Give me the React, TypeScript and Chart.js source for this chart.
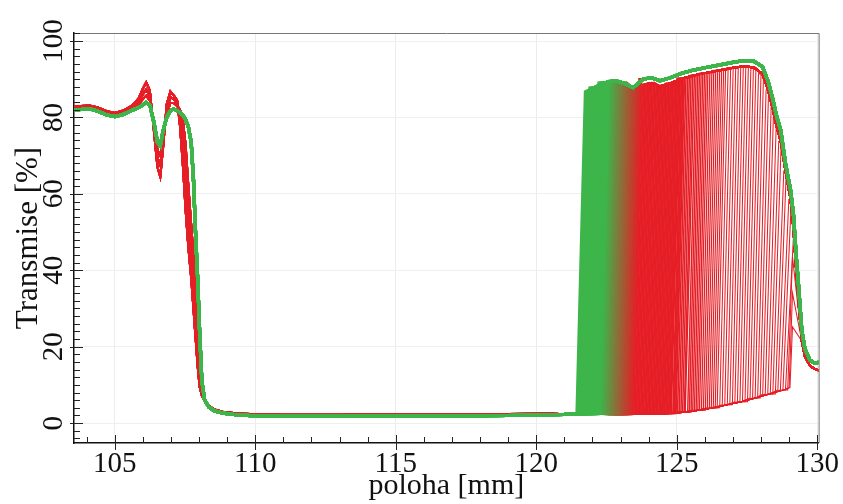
import React, { useEffect, useRef } from "react";
import { Chart, registerables } from "chart.js";

Chart.register(...registerables);

// ---------- data ----------
// Left part (common to all scans): position [mm]
const leftX = [103.55, 103.8, 104.1, 104.4, 104.7, 105.0, 105.3, 105.6, 105.85, 106.0, 106.12, 106.25, 106.4, 106.52, 106.62, 106.72, 106.85, 106.98, 107.1, 107.22, 107.32, 107.42, 107.52, 107.62, 107.72, 107.8, 107.88, 107.95, 108.02, 108.1, 108.2, 108.35, 108.55, 108.85, 109.3, 110.0, 111.0, 113.0, 115.0, 117.0, 119.0, 120.5];
// transmission of the first (green) scans
const leftGreen = [82.0, 82.1, 82.3, 81.6, 80.7, 80.2, 80.8, 81.8, 82.6, 83.3, 83.9, 83.2, 78.5, 73.5, 72.6, 76.5, 80.0, 81.8, 82.2, 81.8, 81.3, 80.6, 79.5, 77.5, 73.5, 64.0, 49.0, 38.0, 24.0, 11.0, 6.0, 4.2, 3.2, 2.6, 2.2, 1.9, 1.8, 1.8, 1.9, 1.9, 2.0, 2.2];
// transmission of the later (red) scans, three representative shapes
const leftRedA = [82.8, 83.0, 83.1, 82.6, 81.7, 81.2, 81.8, 83.0, 85.0, 87.5, 89.2, 87.0, 76.0, 67.0, 64.5, 72.0, 83.5, 86.8, 85.8, 84.5, 78.0, 68.0, 56.0, 46.0, 38.0, 30.0, 22.0, 15.0, 9.5, 7.2, 5.8, 4.5, 3.6, 3.0, 2.6, 2.3, 2.2, 2.2, 2.3, 2.3, 2.4, 2.5];
const leftRedB = [82.5, 82.7, 82.8, 82.2, 81.3, 80.8, 81.4, 82.6, 84.2, 86.0, 87.3, 85.5, 77.0, 69.5, 67.5, 73.5, 82.0, 85.3, 84.8, 83.8, 81.0, 75.0, 64.0, 53.0, 44.0, 36.0, 27.0, 19.0, 12.0, 8.0, 6.0, 4.5, 3.5, 2.9, 2.5, 2.2, 2.1, 2.1, 2.2, 2.2, 2.3, 2.4];
const leftRedC = [82.3, 82.4, 82.6, 81.9, 81.0, 80.5, 81.1, 82.2, 83.5, 84.8, 85.7, 84.4, 77.8, 71.5, 70.0, 74.5, 81.0, 83.8, 83.8, 83.0, 82.0, 79.5, 73.0, 62.0, 52.0, 44.0, 34.0, 25.0, 16.0, 9.5, 6.3, 4.5, 3.4, 2.8, 2.4, 2.1, 2.0, 2.0, 2.1, 2.1, 2.2, 2.3];

// Right part: low baseline before each scan's rising edge
const baseX = [121.0, 121.4, 122.0, 123.0, 124.0, 124.8, 125.3, 125.8, 126.3, 126.8, 127.3, 127.8, 128.3, 128.8, 129.1];
const baseY = [2.3, 2.5, 2.5, 2.4, 2.5, 2.6, 2.9, 3.4, 4.0, 4.8, 5.6, 6.6, 7.6, 8.7, 9.3];

// Right part: high plateau after the rising edge
const topX = [121.7, 122.05, 122.4, 122.8, 123.1, 123.45, 123.8, 124.1, 124.4, 124.75, 125.2, 125.6, 126.0, 126.5, 127.0, 127.4, 127.75, 128.05, 128.25, 128.4, 128.55, 128.7, 128.87, 129.05, 129.15, 129.25, 129.33, 129.45, 129.56, 129.74, 129.9, 130.05];
const topGreenY = [86.7, 87.7, 89.0, 89.6, 89.0, 87.8, 90.0, 90.4, 89.6, 90.3, 91.6, 92.4, 93.0, 93.7, 94.4, 94.9, 94.7, 93.3, 89.5, 85.4, 80.5, 76.7, 68.0, 61.0, 55.0, 44.0, 36.6, 24.5, 19.5, 16.5, 15.7, 15.9];
const topRedY = [85.4, 86.4, 87.7, 88.2, 87.7, 86.5, 88.6, 89.0, 88.2, 88.9, 90.2, 91.0, 91.6, 92.3, 93.0, 93.4, 93.1, 91.4, 87.2, 82.7, 77.7, 73.7, 66.0, 58.5, 51.0, 40.0, 32.0, 21.5, 17.5, 15.0, 14.2, 13.8];

// rising-edge position [mm] of each scan, in time order (green first, red last)
const edgePositions = [
  121.45, 121.49, 121.53, 121.57, 121.61, 121.65, 121.69, 121.73, 121.77, 121.81, 121.85, 121.89, 121.93, 121.97, 122.01, 122.05, 122.09,
  122.13, 122.18, 122.22, 122.27, 122.31, 122.36, 122.40, 122.45, 122.49, 122.54, 122.58, 122.63, 122.67, 122.72, 122.76, 122.81, 122.85, 122.90, 122.94, 122.99, 123.03, 123.08, 123.12, 123.17,
  123.22, 123.27, 123.32, 123.37, 123.42, 123.47, 123.52, 123.57, 123.62, 123.67, 123.72, 123.77, 123.82, 123.87, 123.92, 123.97, 124.02, 124.07, 124.12, 124.17, 124.22, 124.27, 124.32, 124.37, 124.42, 124.47, 124.52, 124.57, 124.62, 124.67, 124.72, 124.77, 124.82, 124.87, 124.92, 124.97,
  125.03, 125.09, 125.15, 125.21, 125.27, 125.33, 125.39, 125.45, 125.51, 125.57, 125.63, 125.69, 125.75, 125.81, 125.88, 125.95, 126.02, 126.09, 126.16, 126.23, 126.30, 126.37, 126.44,
  126.53, 126.62, 126.71, 126.80, 126.89, 126.98, 127.07, 127.16, 127.25, 127.34, 127.43, 127.52, 127.61, 127.70, 127.79, 127.88, 127.97, 128.06, 128.15, 128.24, 128.33, 128.42, 128.51, 128.60, 128.69, 128.78, 128.87,
];
// last scans: edge close to the right drop, with a small peak only
const lateEdges = [128.95, 129.0, 129.03];
const latePeakX = [129.12, 129.12, 129.12];
const latePeaks = [43.5, 34.0, 25.2];

const yTickLabels = ["0", "20", "40", "60", "80", "100"];
const xTickLabels = ["105", "110", "115", "120", "125", "130"];

// ---------- styling ----------
const GREEN = [61, 181, 74];
const RED = [230, 30, 38];
const GREEN_END = 20; // index where colour starts to change
const RED_START = 46; // index where colour is fully red
const DENSE_END = 77; // scans after this index are drawn thinner
const MEDIUM_END = 100;
const RISE_WIDTH = 0.3; // mm
const FONT = "'Liberation Serif', 'Times New Roman', serif";

function colorFor(i: number): string {
  const t = Math.min(1, Math.max(0, (i - GREEN_END) / (RED_START - GREEN_END)));
  const c = GREEN.map((g, k) => Math.round(g + (RED[k] - g) * t));
  return `rgb(${c[0]},${c[1]},${c[2]})`;
}

function widthFor(i: number): number {
  if (i < GREEN_END) return 3.2;
  if (i < RED_START) return 2.4;
  if (i < DENSE_END) return 2.0;
  if (i < MEDIUM_END) return 1.6 - ((i - DENSE_END) / (MEDIUM_END - DENSE_END)) * 0.5;
  return 1.05;
}

function nearest(xs: number[], ys: number[], x: number): number {
  let best = 0;
  for (let k = 1; k < xs.length; k++) if (Math.abs(xs[k] - x) < Math.abs(xs[best] - x)) best = k;
  return ys[best];
}

function leftFor(i: number): number[] {
  if (i < RED_START) return leftGreen;
  const r = i % 3;
  return r === 0 ? leftRedA : r === 1 ? leftRedB : leftRedC;
}

function buildCurve(left: number[], top: number[], edge: number) {
  const pts: { x: number; y: number }[] = leftX.map((x, k) => ({ x, y: left[k] }));
  baseX.forEach((x, k) => {
    if (x < edge - 0.01) pts.push({ x, y: baseY[k] });
  });
  pts.push({ x: edge, y: nearest(baseX, baseY, edge) });
  const t0 = edge + RISE_WIDTH;
  pts.push({ x: t0, y: nearest(topX, top, t0) });
  topX.forEach((x, k) => {
    if (x > t0 + 0.03) pts.push({ x, y: top[k] });
  });
  return pts;
}

function buildLate(left: number[], edge: number, px: number, peak: number) {
  const pts: { x: number; y: number }[] = leftX.map((x, k) => ({ x, y: left[k] }));
  baseX.forEach((x, k) => {
    if (x < edge - 0.01) pts.push({ x, y: baseY[k] });
  });
  pts.push({ x: edge, y: nearest(baseX, baseY, edge) });
  pts.push({ x: px, y: peak });
  topX.forEach((x, k) => {
    if (x >= 129.4) pts.push({ x, y: topRedY[k] });
  });
  return pts;
}

function isMultiple(v: number, m: number) {
  return Math.abs(v - Math.round(v / m) * m) < 1e-6;
}

const frameAndTicks = {
  id: "frameAndTicks",
  afterDraw(chart: any) {
    const { ctx, chartArea } = chart;
    const { left, right, top, bottom } = chartArea;
    const xs = chart.scales.x;
    const ys = chart.scales.y;
    ctx.save();
    ctx.strokeStyle = "#777";
    ctx.lineWidth = 1;
    ctx.beginPath();
    ctx.moveTo(left, top + 0.5);
    ctx.lineTo(right + 0.5, top + 0.5);
    ctx.lineTo(right + 0.5, bottom);
    ctx.stroke();
    ctx.strokeStyle = "#222";
    ctx.lineWidth = 1;
    ctx.beginPath();
    xs.ticks.forEach((t: any) => {
      const p = Math.round(xs.getPixelForValue(t.value)) + 0.5;
      if (isMultiple(t.value, 5)) {
        ctx.moveTo(p, bottom - 8);
        ctx.lineTo(p, bottom + 7);
      } else {
        ctx.moveTo(p, bottom - 6);
        ctx.lineTo(p, bottom);
      }
    });
    ys.ticks.forEach((t: any) => {
      const p = Math.round(ys.getPixelForValue(t.value)) + 0.5;
      if (isMultiple(t.value, 20)) {
        ctx.moveTo(left - 4, p);
        ctx.lineTo(left + 9, p);
      } else {
        ctx.moveTo(left, p);
        ctx.lineTo(left + 6, p);
      }
    });
    ctx.stroke();
    ctx.restore();
  },
};

export default function App() {
  const ref = useRef<HTMLCanvasElement>(null);
  useEffect(() => {
    const datasets: any[] = edgePositions.map((e, i) => ({
      label: `scan ${i + 1}`,
      data: buildCurve(leftFor(i), i < RED_START ? topGreenY : topRedY, e),
      borderColor: colorFor(i),
      borderWidth: widthFor(i),
      pointRadius: 0,
      tension: 0,
      fill: false,
    }));
    lateEdges.forEach((e, j) => {
      datasets.push({
        label: `scan ${edgePositions.length + j + 1}`,
        data: buildLate(leftFor(edgePositions.length + j), e, latePeakX[j], latePeaks[j]),
        borderColor: colorFor(edgePositions.length + j),
        borderWidth: 1.05,
        pointRadius: 0,
        tension: 0,
        fill: false,
      });
    });

    const chart = new Chart(ref.current as HTMLCanvasElement, {
      type: "line",
      data: { datasets },
      plugins: [frameAndTicks],
      options: {
        responsive: false,
        animation: false,
        parsing: false as any,
        normalized: true,
        layout: { padding: { top: 33, right: 17, left: 0, bottom: 0 } },
        plugins: {
          legend: { display: false },
          tooltip: { enabled: false },
        },
        scales: {
          x: {
            type: "linear",
            min: 103.55,
            max: 130.05,
            afterFit: (s: any) => {
              s.height = 61;
            },
            border: { color: "#111", width: 1.5 },
            grid: {
              drawTicks: false,
              color: (c: any) => (c.tick && isMultiple(c.tick.value, 5) ? "#ececec" : "rgba(0,0,0,0)"),
            },
            ticks: {
              stepSize: 1,
              includeBounds: false,
              autoSkip: false,
              maxRotation: 0,
              padding: 4,
              color: "#111",
              font: { family: FONT, size: 29 },
              callback: (v: any) => (isMultiple(Number(v), 5) && xTickLabels.includes(String(Math.round(Number(v)))) ? String(Math.round(Number(v))) : ""),
            },
            title: {
              display: true,
              text: "poloha [mm]",
              color: "#111",
              font: { family: FONT, size: 30 },
              padding: { top: 0, bottom: 0 },
            },
          },
          y: {
            type: "linear",
            min: -5.2,
            max: 102.1,
            afterFit: (s: any) => {
              s.width = 74;
            },
            border: { color: "#111", width: 1.5 },
            grid: {
              drawTicks: false,
              color: (c: any) => (c.tick && isMultiple(c.tick.value, 20) ? "#efefef" : "rgba(0,0,0,0)"),
            },
            ticks: {
              stepSize: 2,
              includeBounds: false,
              autoSkip: false,
              minRotation: 90,
              maxRotation: 90,
              crossAlign: "center",
              padding: -2,
              color: "#111",
              font: { family: FONT, size: 29 },
              callback: (v: any) => (isMultiple(Number(v), 20) && yTickLabels.includes(String(Math.round(Number(v)))) ? String(Math.round(Number(v))) : ""),
            },
            title: {
              display: true,
              text: "Transmise [%]",
              color: "#111",
              font: { family: FONT, size: 31 },
              padding: { top: 10, bottom: 0 },
            },
          },
        },
      },
    } as any);
    return () => chart.destroy();
  }, []);

  return (
    <div style={{ position: "fixed", left: 0, top: 0, width: 843, height: 504, background: "#fff" }}>
      <canvas ref={ref} width={843} height={504} style={{ width: 843, height: 504, display: "block" }} />
    </div>
  );
}
